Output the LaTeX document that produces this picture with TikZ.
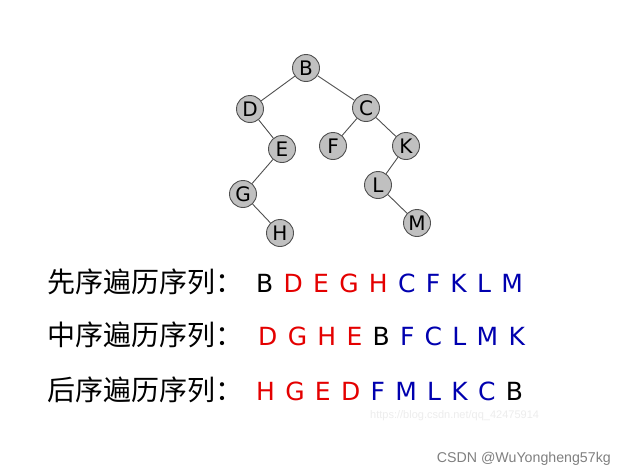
\documentclass[tikz,border=0pt]{standalone}
\usepackage{fontspec}
\setsansfont{DejaVu Sans}
\newfontfamily\cjk{Noto Sans CJK SC}
\newfontfamily\wmfont{Liberation Sans}
\definecolor{seqred}{RGB}{228,0,0}
\definecolor{seqblue}{RGB}{0,0,175}
\definecolor{nodegray}{RGB}{192,192,192}
\definecolor{edgegray}{RGB}{80,80,80}
\newcommand{\seqspacing}{\spaceskip=10.3pt\relax}
\begin{document}
\begin{tikzpicture}[x=1pt, y=-1pt,
            vertex/.style={
                circle,
                draw=edgegray,
                fill=nodegray,
                line width=0.9pt,
                minimum size=27pt,
                inner sep=0pt,
                font=\sffamily\fontsize{20}{20}\selectfont
            },
            branch/.style={
                draw=edgegray,
                line width=0.9pt
            },
            caption/.style={
                anchor=base west,
                inner sep=0pt,
                font=\cjk\fontsize{28}{28}\selectfont
            },
            sequence/.style={
                anchor=base west,
                inner sep=0pt,
                font=\sffamily\fontsize{25}{25}\selectfont\seqspacing
            }
        ]

        \useasboundingbox[fill=white] (0,0) rectangle (627,474);

        % Tree nodes
        \node[vertex] (B) at (306,68) {B};
        \node[vertex] (D) at (250,109) {D};
        \node[vertex] (C) at (366,108) {C};
        \node[vertex] (E) at (282,149) {E};
        \node[vertex] (F) at (333,146) {F};
        \node[vertex] (K) at (406,146) {K};
        \node[vertex] (G) at (243,194) {G};
        \node[vertex] (L) at (378,185) {L};
        \node[vertex] (H) at (280,233) {H};
        \node[vertex] (M) at (417,223) {M};

        % Tree edges
        \draw[branch] (B) -- (D);
        \draw[branch] (B) -- (C);
        \draw[branch] (D) -- (E);
        \draw[branch] (E) -- (G);
        \draw[branch] (G) -- (H);
        \draw[branch] (C) -- (F);
        \draw[branch] (C) -- (K);
        \draw[branch] (K) -- (L);
        \draw[branch] (L) -- (M);

        % Preorder
        \node[caption] (precap) at (47,292) {先序遍历序列：};
        \node[sequence] (preseq) at (256,292)
            {B \textcolor{seqred}{D E G H} \textcolor{seqblue}{C F K L M}};

        % Inorder
        \node[caption] (incap) at (47,345) {中序遍历序列：};
        \node[sequence] (inseq) at (258,345)
            {\textcolor{seqred}{D G H E} B \textcolor{seqblue}{F C L M K}};

        % Postorder
        \node[caption] (postcap) at (47,400) {后序遍历序列：};
        \node[sequence] (postseq) at (256,400)
            {\textcolor{seqred}{H G E D} \textcolor{seqblue}{F M L K C} B};

        % Watermarks
        \node[anchor=base west, inner sep=0pt, text=black!7,
            font=\wmfont\fontsize{11}{11}\selectfont]
            (url) at (370,418) {https://blog.csdn.net/qq\_42475914};
        \node[anchor=base east, inner sep=0pt, text=black!50,
            font=\wmfont\fontsize{14.2}{14.2}\selectfont]
            (csdn) at (611,462) {CSDN @WuYongheng57kg};
        \end{tikzpicture}
\end{document}
